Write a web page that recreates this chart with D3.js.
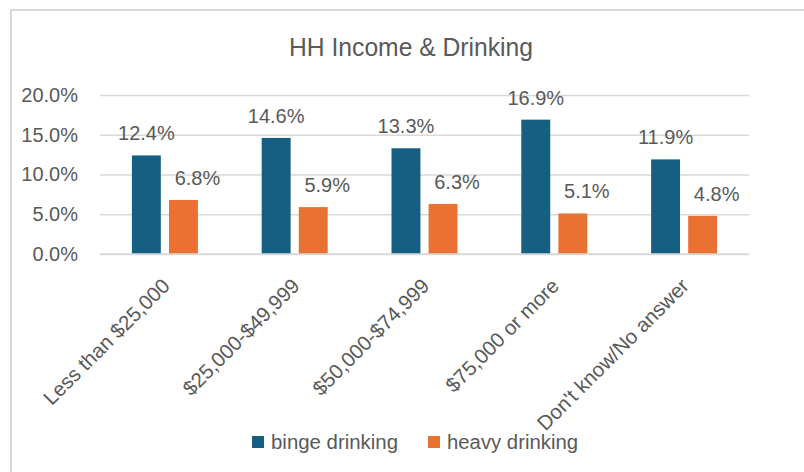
<!DOCTYPE html>
<html>
<head>
<meta charset="utf-8">
<script src="https://cdn.jsdelivr.net/npm/d3@7"></script>
<style>
  html, body { margin: 0; padding: 0; background: #fff; }
  svg { display: block; }
  text { font-family: "Liberation Sans", Arial, sans-serif; fill: #595959; }
</style>
</head>
<body>
<svg id="chart" width="804" height="472"></svg>
<script>
const title = "HH Income & Drinking";
const categories = ["Less than $25,000", "$25,000-$49,999", "$50,000-$74,999", "$75,000 or more", "Don't know/No answer"];
const seriesNames = ["binge drinking", "heavy drinking"];
const bingeDrinking = [12.4, 14.6, 13.3, 16.9, 11.9];
const heavyDrinking = [6.8, 5.9, 6.3, 5.1, 4.8];
const yTicks = [0, 5, 10, 15, 20];
const colors = ["#156082", "#E97132"];

const svg = d3.select("#chart");
const W = 804, H = 472;
const margin = { left: 100, right: 55, top: 95, bottom: 218 };
const plotW = W - margin.left - margin.right;
const plotH = H - margin.top - margin.bottom;

// chart border (top & left visible)
svg.append("rect").attr("x", 0).attr("y", 0).attr("width", W).attr("height", H).attr("fill", "#fff");
svg.append("path")
  .attr("d", `M11,${H} V10 H${W}`)
  .attr("fill", "none").attr("stroke", "#D9D9D9").attr("stroke-width", 2);

// title
svg.append("text")
  .attr("x", 411).attr("y", 56)
  .attr("text-anchor", "middle")
  .attr("font-size", 25)
  .attr("textLength", 244).attr("lengthAdjust", "spacingAndGlyphs")
  .text(title);

const g = svg.append("g").attr("transform", `translate(${margin.left},${margin.top})`);

const y = d3.scaleLinear().domain([0, 20]).range([plotH, 0]);
const x0 = d3.scaleBand().domain(categories).range([0, plotW]).paddingInner(0).paddingOuter(0);
const groupW = 66;
const x1 = d3.scaleBand().domain(seriesNames).range([0, groupW]).paddingInner(0.22).paddingOuter(0);

// gridlines
const yAxis = d3.axisLeft(y).tickValues(yTicks).tickSize(-plotW).tickFormat(d => d.toFixed(1) + "%").tickPadding(22);
const ya = g.append("g").call(yAxis);
ya.select(".domain").remove();
ya.selectAll(".tick line").attr("stroke", "#D9D9D9").attr("stroke-width", 1.5);
ya.selectAll(".tick text").attr("font-size", 20).attr("fill", "#595959")
  .style("font-family", '"Liberation Sans", Arial, sans-serif');

// bars
const data = categories.map((c, i) => ({ cat: c, values: [
  { s: seriesNames[0], v: bingeDrinking[i], k: 0 },
  { s: seriesNames[1], v: heavyDrinking[i], k: 1 }
]}));

const groups = g.selectAll(".grp").data(data).enter().append("g")
  .attr("transform", d => `translate(${x0(d.cat) + x0.bandwidth() / 2 - groupW / 2},0)`);

groups.selectAll("rect").data(d => d.values).enter().append("rect")
  .attr("x", d => x1(d.s))
  .attr("y", d => y(d.v))
  .attr("width", x1.bandwidth())
  .attr("height", d => plotH - y(d.v))
  .attr("fill", d => colors[d.k]);

groups.selectAll(".lbl").data(d => d.values).enter().append("text")
  .attr("class", "lbl")
  .attr("x", d => x1(d.s) + x1.bandwidth() / 2 + (d.k === 1 ? 14 : 0))
  .attr("y", d => y(d.v) - 15)
  .attr("text-anchor", "middle")
  .attr("font-size", 20)
  .text(d => d.v.toFixed(1) + "%");

// x axis line
g.append("line").attr("x1", 0).attr("x2", plotW).attr("y1", plotH).attr("y2", plotH)
  .attr("stroke", "#D9D9D9").attr("stroke-width", 1.5);

// x labels rotated
const xa = g.append("g").attr("transform", `translate(0,${plotH})`)
  .call(d3.axisBottom(x0).tickSize(0).tickPadding(0));
xa.select(".domain").remove();
xa.selectAll(".tick text")
  .attr("font-size", 20.5)
  .attr("fill", "#595959")
  .style("font-family", '"Liberation Sans", Arial, sans-serif')
  .attr("text-anchor", "end")
  .attr("x", 0).attr("y", 0).attr("dy", "0.35em")
  .attr("transform", "translate(1,28) rotate(-45)");

// legend
const legend = svg.append("g").attr("transform", "translate(252,436)");
const legX = [0, 176];
seriesNames.forEach((s, i) => {
  const lg = legend.append("g").attr("transform", `translate(${legX[i]},0)`);
  lg.append("rect").attr("width", 12).attr("height", 12).attr("fill", colors[i]);
  lg.append("text").attr("x", 19).attr("y", 12.5).attr("font-size", 20)
    .attr("textLength", i === 0 ? 127 : 131).attr("lengthAdjust", "spacingAndGlyphs")
    .text(s);
});
</script>
</body>
</html>
